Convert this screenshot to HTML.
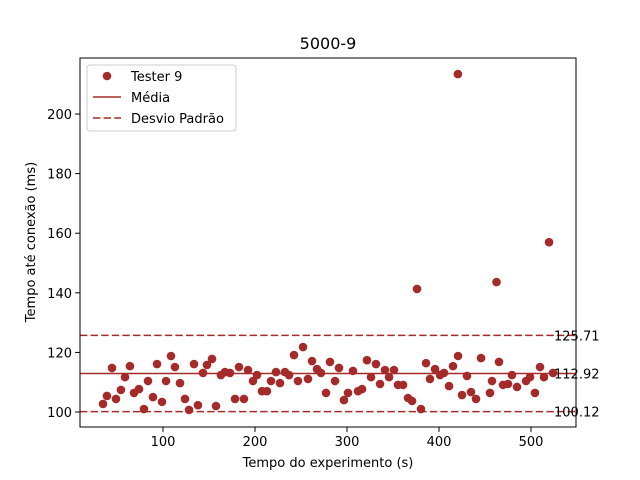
<!DOCTYPE html>
<html><head><meta charset="utf-8"><style>
body{margin:0;background:#fff;}
svg{display:block;font-family:"DejaVu Sans","Liberation Sans",sans-serif;}
</style></head><body>
<svg id="chart" width="640" height="480" viewBox="0 0 640 480"></svg>
<script>
const xs=[34.8,39.1,44.6,48.9,54.3,58.7,64.1,68.5,73.9,79.3,83.7,89.1,93.5,98.9,103.3,108.7,113,118.5,123.9,128.3,133.7,138,143.5,147.8,153.3,157.6,163,167.4,172.8,178.3,182.6,188,192.4,197.8,202.2,207.6,213,217.4,222.8,227.2,232.6,237,242.4,246.7,252.2,257.6,262,267.4,271.7,277.2,281.5,287,291.3,296.7,301.1,306.5,312,316.3,321.7,326.1,331.5,335.9,341.3,345.7,351.1,355.4,360.9,366.3,370.7,376.1,380.4,385.9,390.2,395.7,401.1,405.4,410.9,415.2,420.5,420.7,425,430.4,434.8,440.2,445.7,455.4,457.6,462.5,465.2,469.6,475,479.3,484.8,494.6,498.9,504.3,509.8,514.1,519.6,523.9];
const ys=[102.7,105.4,114.8,104.4,107.4,111.7,115.4,106.4,107.7,101,110.4,105,116.1,103.4,110.4,118.8,115.1,109.7,104.4,100.7,116.1,102.3,113.1,115.8,117.8,102,112.4,113.4,113.1,104.4,115.1,104.4,114.1,110.4,112.4,107,107,110.4,113.4,109.7,113.4,112.4,119.1,110.4,121.8,111.1,117.1,114.4,113.1,106.4,116.8,110.4,114.8,104,106.4,113.8,107,107.7,117.4,111.7,116.1,109.4,114.1,111.7,114.1,109.1,109.1,104.7,103.7,141.3,101,116.4,111.1,114.4,112.4,113.1,108.7,115.4,213.4,118.8,105.7,112.1,106.7,104.4,118.1,106.4,110.4,143.6,116.8,109.1,109.4,112.4,108.4,110.4,111.7,106.4,115.1,111.7,157,113.1];
const xTicks=[100,200,300,400,500];
const yTicks=[100,120,140,160,180,200];
const meanVal=112.92, stdHi=125.71, stdLo=100.12;
const hLabels=["125.71","112.92","100.12"];

const L=80,R=576,T=58,B=427,xmin=9.8,xmax=548.9,ymin=94.97,ymax=218.8;
const C='#a52a2a';
const sx=v=>L+(v-xmin)/(xmax-xmin)*(R-L);
const sy=v=>B-(v-ymin)/(ymax-ymin)*(B-T);
const svg=document.getElementById('chart');
const NS='http://www.w3.org/2000/svg';
function mk(tag,attrs,parent){const e=document.createElementNS(NS,tag);for(const k in attrs)e.setAttribute(k,attrs[k]);(parent||svg).appendChild(e);return e;}

let t=mk('text',{x:(L+R)/2,y:49,'text-anchor':'middle','font-size':'16'});t.textContent='5000-9';



[[stdHi,'7.4,3.2'],[meanVal,null],[stdLo,'7.4,3.2']].forEach((d,i)=>{
 const l=mk('line',{x1:L,x2:R,y1:sy(d[0]),y2:sy(d[0]),stroke:C,'stroke-width':1.5});
 if(d[1])l.setAttribute('stroke-dasharray',d[1]);
 
 
});
xs.forEach((x,i)=>{
 const c=mk('circle',{cx:sx(x),cy:sy(ys[i]),r:4.3,fill:C});
 
 
});
[stdHi,meanVal,stdLo].forEach((v,i)=>{
 const tx=mk('text',{x:554,y:sy(v)+5,'font-size':'13'});tx.textContent=hLabels[i];
 
 
});
const fr=mk('rect',{x:L,y:T,width:R-L,height:B-T,fill:'none',stroke:'#000','stroke-width':1});


xTicks.forEach(v=>{
 mk('line',{x1:sx(v),x2:sx(v),y1:B,y2:B+4.9,stroke:'#000'});
 const tx=mk('text',{x:sx(v),y:B+19,'text-anchor':'middle','font-size':'13'});tx.textContent=v;
 
 
});
yTicks.forEach(v=>{
 mk('line',{x1:L-4.9,x2:L,y1:sy(v),y2:sy(v),stroke:'#000'});
 const tx=mk('text',{x:L-8,y:sy(v)+5,'text-anchor':'end','font-size':'13'});tx.textContent=v;
 
 
});
t=mk('text',{x:(L+R)/2,y:467,'text-anchor':'middle','font-size':'13'});t.textContent='Tempo do experimento (s)';


t=mk('text',{x:0,y:0,'text-anchor':'middle','font-size':'13',transform:'translate(35,242) rotate(-90)'});t.textContent='Tempo até conexão (ms)';


const g=mk('g',{});


mk('rect',{x:87,y:65,width:149,height:66,rx:3,fill:'#fff','fill-opacity':0.8,stroke:'#ccc'},g);
mk('circle',{cx:107,cy:76,r:4.3,fill:C},g);
mk('line',{x1:93,x2:121,y1:97,y2:97,stroke:C,'stroke-width':1.5},g);
mk('line',{x1:93,x2:121,y1:118,y2:118,stroke:C,'stroke-width':1.5,'stroke-dasharray':'7.4,3.2'},g);
[['Tester 9',81],['Média',102],['Desvio Padrão',123]].forEach(d=>{
 const tx=mk('text',{x:131,y:d[1],'font-size':'13'},g);tx.textContent=d[0];
 
 
});
</script>
</body></html>
